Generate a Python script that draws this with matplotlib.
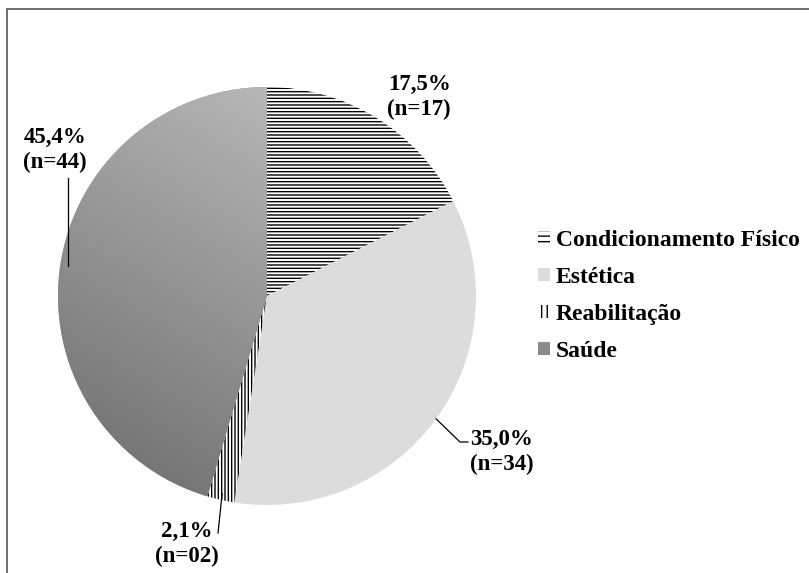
import matplotlib.pyplot as plt
import numpy as np
from matplotlib.patches import Patch, Rectangle
from matplotlib.colors import LinearSegmentedColormap

# data
categories = ["Condicionamento Físico", "Estética", "Reabilitação", "Saúde"]
percents = [17.5, 35.0, 2.1, 45.4]
counts = [17, 34, 2, 44]

plt.rcParams["font.family"] = ["Liberation Serif", "DejaVu Serif"]
plt.rcParams["font.weight"] = "bold"
plt.rcParams["hatch.linewidth"] = 1.0
plt.rcParams["hatch.color"] = "black"

W, H = 809, 573
fig = plt.figure(figsize=(W / 100, H / 100), dpi=100)

# pie centre (267, 296) px, radius 209 px
cx, cy, r = 267, 296, 209
ax = fig.add_axes([(cx - r) / W, (H - cy - r) / H, 2 * r / W, 2 * r / H])

faces = ["white", "#dcdcdc", "white", "#9a9a9a"]
hatches = ["-----", None, "|||||", None]
wedges, _ = ax.pie(percents, startangle=90, counterclock=False, radius=1,
                   colors=faces, wedgeprops=dict(linewidth=0))
for w, h in zip(wedges, hatches):
    if h:
        w.set_hatch(h)
        w.set_edgecolor("black")
        w.set_linewidth(0)
ax.set_aspect("equal")
ax.axis("off")

# gradient fill for the last slice
grad_cmap = LinearSegmentedColormap.from_list("g", ["#6a6a6a", "#c8c8c8"])
yy, xx = np.mgrid[-1:1:200j, -1:1:200j]
grad = (xx * 0.6 + yy)
im = ax.imshow(grad, extent=(-1, 1, -1, 1), origin="lower", cmap=grad_cmap,
               zorder=wedges[3].get_zorder() + 0.1)
im.set_clip_path(wedges[3])
ax.set_xlim(-1, 1)
ax.set_ylim(-1, 1)


def px(x, y):
    return (x - cx) / r, (cy - y) / r


def lab(i):
    return f"{percents[i]:.1f}%".replace(".", ",") + f"\n(n={counts[i]:02d})"


# angles of slice mid-points
cum = np.cumsum([0] + percents)
mids = [np.deg2rad(90 - (cum[i] + percents[i] / 2) * 3.6) for i in range(4)]
kw = dict(fontsize=16.5, fontweight="bold", linespacing=1.2, va="center")

ax.text(*px(419, 97), lab(0), ha="center", **kw)

# Estética
e = (np.cos(mids[1]), np.sin(mids[1]))
ax.plot([e[0], px(460, 442)[0], px(468, 442)[0]],
        [e[1], px(460, 442)[1], px(468, 442)[1]], color="black", lw=0.9, clip_on=False)
ax.text(*px(470, 452), lab(1), ha="left", **kw)

# Reabilitação
rb = (np.cos(mids[2]) * 0.97, np.sin(mids[2]) * 0.97)
ax.plot([rb[0], px(218, 533)[0]], [rb[1], px(218, 533)[1]], color="black", lw=0.9, clip_on=False)
ax.text(*px(187, 544), lab(2), ha="center", **kw)

# Saúde
s = (np.cos(mids[3]) * 0.96, np.sin(mids[3]))
ax.plot([s[0], s[0]], [s[1], px(67, 178)[1]], color="black", lw=0.9, clip_on=False)
ax.text(*px(55, 150), lab(3), ha="center", **kw)

handles = [Patch(facecolor="white", hatch="---", edgecolor="black", linewidth=0),
           Patch(facecolor="#dcdcdc", linewidth=0),
           Patch(facecolor="white", hatch="|||", edgecolor="black", linewidth=0),
           Patch(facecolor="#8a8a8a", linewidth=0)]
fig.legend(handles, categories, loc="center left", bbox_to_anchor=(538 / W, 1 - 296 / H),
           frameon=False, prop=dict(family="Liberation Serif", weight="bold", size=17),
           handlelength=0.5, handleheight=0.5, handletextpad=0.25, labelspacing=0.68,
           borderpad=0, borderaxespad=0)

# outer frame (only left and top edges visible)
fig.add_artist(Rectangle((7 / W, -0.1), 1.1, 1.1 - 9 / H, transform=fig.transFigure,
                         fill=False, edgecolor="#555555", linewidth=1.2, clip_on=False))

fig.savefig("out.png", dpi=100)
